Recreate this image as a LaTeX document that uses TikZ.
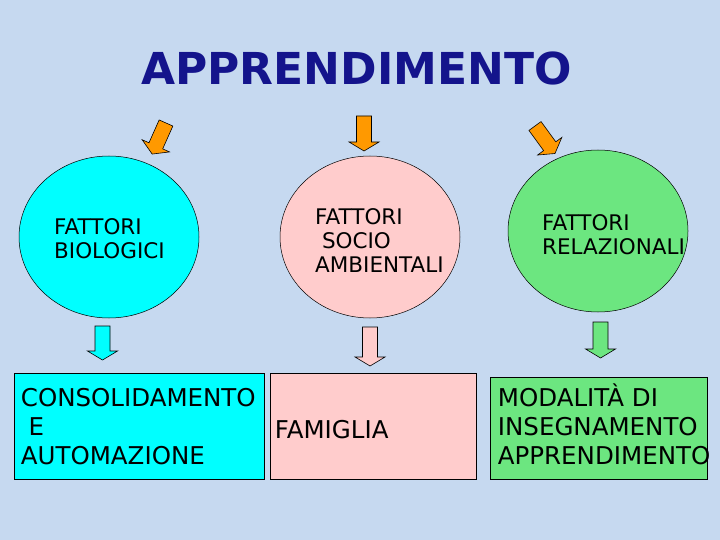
\documentclass[tikz,border=0pt]{standalone}
\usepackage{fontspec}
\setmainfont{DejaVu Sans}
\usetikzlibrary{shapes.geometric}

\definecolor{sfondo}{RGB}{198,217,240}
\definecolor{ciano}{RGB}{0,255,255}
\definecolor{rosa}{RGB}{255,204,204}
\definecolor{verde}{RGB}{108,230,128}
\definecolor{arancio}{RGB}{255,153,0}
\definecolor{blutitolo}{RGB}{20,20,140}

\tikzset{
  ellisse/.style={ellipse, draw, line width=0.5pt, minimum width=180pt, minimum height=162pt, inner sep=0pt},
  scatola/.style={rectangle, draw, line width=0.6pt, inner sep=0pt},
  testoell/.style={inner sep=0pt, align=left, anchor=north west, font=\fontsize{21.5}{24}\selectfont},
  testobox/.style={inner sep=0pt, align=left, anchor=north west, font=\fontsize{24.5}{29}\selectfont},
  pics/freccia/.style 2 args={code={
    \draw[fill=#1, line width=0.6pt] (-7.5,0)--(7.5,0)--(7.5,#2-9)--(15,#2-9)--(0,#2)--(-15,#2-9)--(-7.5,#2-9)--cycle;}}
}

\begin{document}
\begin{tikzpicture}[x=1pt,y=-1pt]

        \fill[sfondo](0,0) rectangle (720,540);

        % titolo
        \node[inner sep=0pt, anchor=base, text=blutitolo, font=\fontsize{44}{50}\bfseries\selectfont] (titolo) at (356.5,85) {APPRENDIMENTO};

        % frecce arancioni
        \pic[rotate=-24] at (166,123) {freccia={arancio}{34}};
        \pic at (364,116) {freccia={arancio}{35}};
        \pic[rotate=36] at (535,126) {freccia={arancio}{34}};

        % ellissi
        \node[ellisse, fill=ciano] (bio) at (109,237) {};
        \node[ellisse, fill=rosa] (socio) at (370,237) {};
        \node[ellisse, fill=verde] (rel) at (598,231) {};

        \node[testoell] (tbio) at ([shift={(-55,-19)}]bio.center) {FATTORI\\BIOLOGICI};
        \node[testoell] (tsocio) at ([shift={(-55,-29)}]socio.center) {FATTORI\\\ SOCIO\\AMBIENTALI};
        \node[testoell] (trel) at ([shift={(-56,-17)}]rel.center) {FATTORI\\RELAZIONALI};

        % frecce in basso
        \pic at (102.5,326) {freccia={ciano}{34}};
        \pic at (370,327) {freccia={rosa}{39}};
        \pic at (600.5,322) {freccia={verde}{36}};

        % riquadri
        \node[scatola, fill=ciano, minimum width=250pt, minimum height=106pt] (consol) at (139,426) {};
        \node[scatola, fill=rosa, minimum width=206pt, minimum height=106pt] (famiglia) at (373,426) {};
        \node[scatola, fill=verde, minimum width=217pt, minimum height=102pt] (modalita) at (598.5,428) {};

        \node[testobox] (tconsol) at ([shift={(7,15)}]consol.north west) {CONSOLIDAMENTO\\\ E\\AUTOMAZIONE};
        \node[testobox] (tfamiglia) at ([shift={(5,47)}]famiglia.north west) {FAMIGLIA};
        \node[testobox] (tmodalita) at ([shift={(8,7)}]modalita.north west) {MODALITÀ DI\\INSEGNAMENTO\\APPRENDIMENTO};

\end{tikzpicture}
\end{document}
